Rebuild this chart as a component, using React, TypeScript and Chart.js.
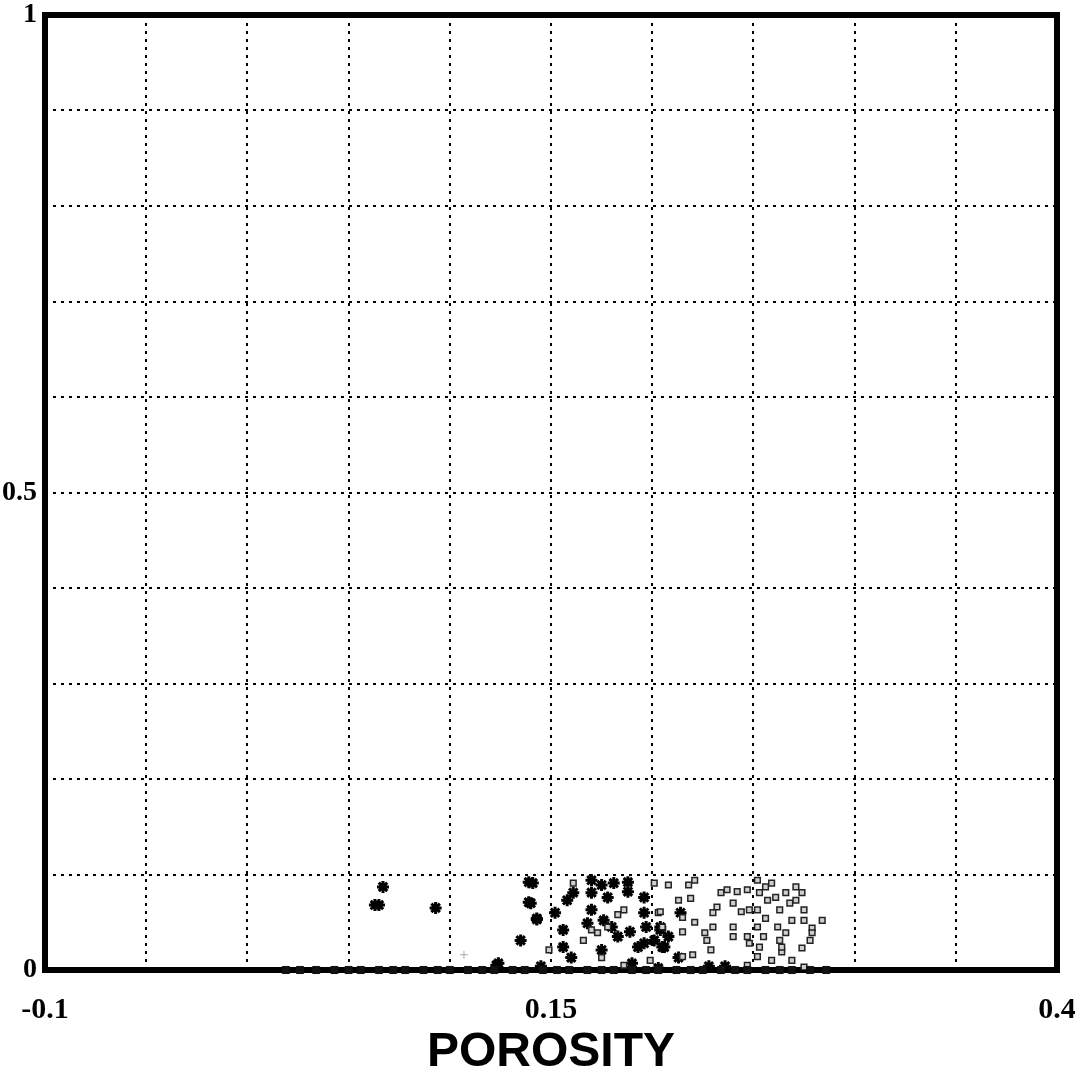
import React, { useEffect, useRef } from "react";
import { Chart, registerables } from "chart.js";

Chart.register(...registerables);

// Tick labels shown on the axes
const xTickLabels: [number, string][] = [[-0.1, "-0.1"], [0.15, "0.15"], [0.4, "0.4"]];
const yTickLabels: [number, string][] = [[0, "0"], [0.5, "0.5"], [1, "1"]];

// Filled star markers (porosity, value)
const starX = [0.067, 0.063, 0.065, 0.093, 0.135, 0.143, 0.139, 0.141, 0.124, 0.139, 0.140, 0.143, 0.152, 0.156, 0.156, 0.160, 0.145, 0.123, 0.158, 0.161, 0.170, 0.170, 0.168, 0.170, 0.175, 0.178, 0.181, 0.176, 0.175, 0.180, 0.183, 0.188, 0.188, 0.196, 0.196, 0.197, 0.196, 0.201, 0.189, 0.193, 0.190, 0.204, 0.205, 0.203, 0.214, 0.204, 0.208, 0.206, 0.213, 0.228, 0.236];
const starY = [0.087, 0.068, 0.068, 0.065, 0.031, 0.053, 0.071, 0.091, 0.007, 0.092, 0.070, 0.054, 0.060, 0.042, 0.024, 0.013, 0.004, 0.005, 0.073, 0.081, 0.094, 0.081, 0.049, 0.063, 0.089, 0.076, 0.091, 0.052, 0.021, 0.045, 0.035, 0.092, 0.082, 0.076, 0.060, 0.045, 0.028, 0.031, 0.040, 0.024, 0.007, 0.042, 0.024, 0.002, 0.060, 0.045, 0.035, 0.024, 0.013, 0.004, 0.004];

// Hollow square markers
const squareX = [0.186, 0.183, 0.178, 0.173, 0.166, 0.170, 0.175, 0.186, 0.199, 0.203, 0.205, 0.161, 0.149, 0.201,
  0.208, 0.218, 0.221, 0.213, 0.219, 0.204, 0.215, 0.221, 0.215, 0.226, 0.227, 0.229, 0.220, 0.215, 0.230, 0.230,
  0.232, 0.234, 0.237, 0.242, 0.247, 0.240, 0.244, 0.248, 0.240, 0.240, 0.247, 0.248, 0.252, 0.253, 0.252, 0.252,
  0.253, 0.256, 0.257, 0.256, 0.255, 0.259, 0.261, 0.263, 0.262, 0.263, 0.264, 0.266, 0.268, 0.269, 0.266, 0.264,
  0.271, 0.271, 0.274, 0.275, 0.269, 0.259, 0.252, 0.247, 0.275, 0.275, 0.284, 0.279, 0.278, 0.274, 0.279];
const squareY = [0.063, 0.058, 0.045, 0.039, 0.031, 0.042, 0.013, 0.005, 0.010, 0.060, 0.045, 0.091, 0.021, 0.091,
  0.089, 0.089, 0.094, 0.073, 0.075, 0.061, 0.055, 0.050, 0.040, 0.039, 0.031, 0.021, 0.016, 0.014, 0.060, 0.045,
  0.066, 0.081, 0.084, 0.082, 0.084, 0.070, 0.061, 0.063, 0.045, 0.035, 0.035, 0.028, 0.094, 0.081, 0.063, 0.045,
  0.024, 0.087, 0.073, 0.054, 0.035, 0.091, 0.076, 0.063, 0.045, 0.031, 0.019, 0.081, 0.070, 0.052, 0.039, 0.024,
  0.087, 0.073, 0.081, 0.063, 0.010, 0.010, 0.014, 0.005, 0.003, 0.052, 0.052, 0.044, 0.031, 0.023, 0.039];

// Points lying on the zero line
const baseX = [0.019, 0.026, 0.034, 0.043, 0.050, 0.056, 0.065, 0.072, 0.078, 0.087, 0.094, 0.100, 0.109, 0.116, 0.122, 0.131, 0.137, 0.146, 0.153, 0.159, 0.168, 0.175, 0.181, 0.190, 0.197, 0.203, 0.212, 0.219, 0.225, 0.234, 0.241, 0.247, 0.256, 0.263, 0.269, 0.278, 0.286];
const baseY = [0, 0, 0, 0, 0, 0, 0, 0, 0, 0, 0, 0, 0, 0, 0, 0, 0, 0, 0, 0, 0, 0, 0, 0, 0, 0, 0, 0, 0, 0, 0, 0, 0, 0, 0, 0, 0];

// Faint isolated cross
const faintX = [0.107];
const faintY = [0.016];

const toPoints = (xs: number[], ys: number[]) => xs.map((x, i) => ({ x, y: ys[i] }));

const labelFor = (list: [number, string][], v: number) => {
  const hit = list.find(([t]) => Math.abs(t - v) < 1e-6);
  return hit ? hit[1] : "";
};

const framePlugin = {
  id: "frame",
  beforeDraw(chart: any) {
    const { ctx, width, height } = chart;
    ctx.save();
    ctx.fillStyle = "#fff";
    ctx.fillRect(0, 0, width, height);
    ctx.restore();
  },
  beforeDatasetsDraw(chart: any) {
    const { ctx, chartArea } = chart;
    const { left, top, right, bottom } = chartArea;
    ctx.save();
    ctx.strokeStyle = "#000";
    ctx.lineWidth = 6;
    ctx.strokeRect(left, top, right - left, bottom - top);
    ctx.restore();
  },
};

export default function App() {
  const ref = useRef<HTMLCanvasElement | null>(null);

  useEffect(() => {
    if (!ref.current) return;
    const tickFont = { family: "'Liberation Serif', serif", size: 30, weight: "bold" as const };
    const chart = new Chart(ref.current, {
      type: "scatter",
      data: {
        datasets: [
          {
            label: "base",
            data: toPoints(baseX, baseY),
            pointStyle: "rect",
            pointRadius: 5,
            backgroundColor: "#111",
            borderColor: "#111",
            borderWidth: 1,
            clip: false as any,
          },
          {
            label: "squares",
            data: toPoints(squareX, squareY),
            pointStyle: "rect",
            pointRadius: 4,
            backgroundColor: "#cfcfcf",
            borderColor: "#222",
            borderWidth: 1.5,
          },
          {
            label: "stars",
            data: toPoints(starX, starY),
            pointStyle: "star",
            pointRadius: 6,
            backgroundColor: "#000",
            borderColor: "#000",
            borderWidth: 3,
          },
          {
            label: "faint",
            data: toPoints(faintX, faintY),
            pointStyle: "cross",
            pointRadius: 4,
            borderColor: "#aaa",
            borderWidth: 1,
          },
        ],
      },
      options: {
        animation: false,
        responsive: false,
        layout: { padding: { top: 15, right: 18, left: 0, bottom: 0 } },
        plugins: { legend: { display: false }, tooltip: { enabled: false } },
        scales: {
          x: {
            type: "linear",
            min: -0.1,
            max: 0.4,
            afterFit(scale: any) {
              scale.height = 107;
              scale.paddingLeft = 0;
              scale.paddingRight = 0;
            },
            ticks: {
              stepSize: 0.05,
              autoSkip: false,
              maxRotation: 0,
              padding: 22,
              color: "#000",
              font: tickFont,
              callback: (v: any) => labelFor(xTickLabels, Number(v)),
            },
            grid: { color: "#000", lineWidth: 2, drawTicks: false },
            border: { display: false, dash: [3, 5] },
            title: {
              display: true,
              text: "POROSITY",
              color: "#000",
              font: { family: "'Liberation Sans', Arial, sans-serif", size: 48, weight: "bold", lineHeight: 1 },
              padding: { top: 0, bottom: 0 },
            },
          },
          y: {
            type: "linear",
            min: 0,
            max: 1,
            afterFit(scale: any) {
              scale.width = 45;
              scale.paddingTop = 0;
              scale.paddingBottom = 0;
            },
            ticks: {
              stepSize: 0.1,
              autoSkip: false,
              padding: 8,
              color: "#000",
              font: { ...tickFont, size: 28 },
              callback: (v: any) => labelFor(yTickLabels, Number(v)),
            },
            grid: { color: "#000", lineWidth: 2, drawTicks: false },
            border: { display: false, dash: [3, 5] },
          },
        },
      },
      plugins: [framePlugin],
    });
    return () => chart.destroy();
  }, []);

  return (
    <div style={{ position: "absolute", left: 0, top: 0, width: 1075, height: 1077, background: "#fff" }}>
      <canvas ref={ref} width={1075} height={1077} style={{ width: 1075, height: 1077, display: "block" }} />
    </div>
  );
}
